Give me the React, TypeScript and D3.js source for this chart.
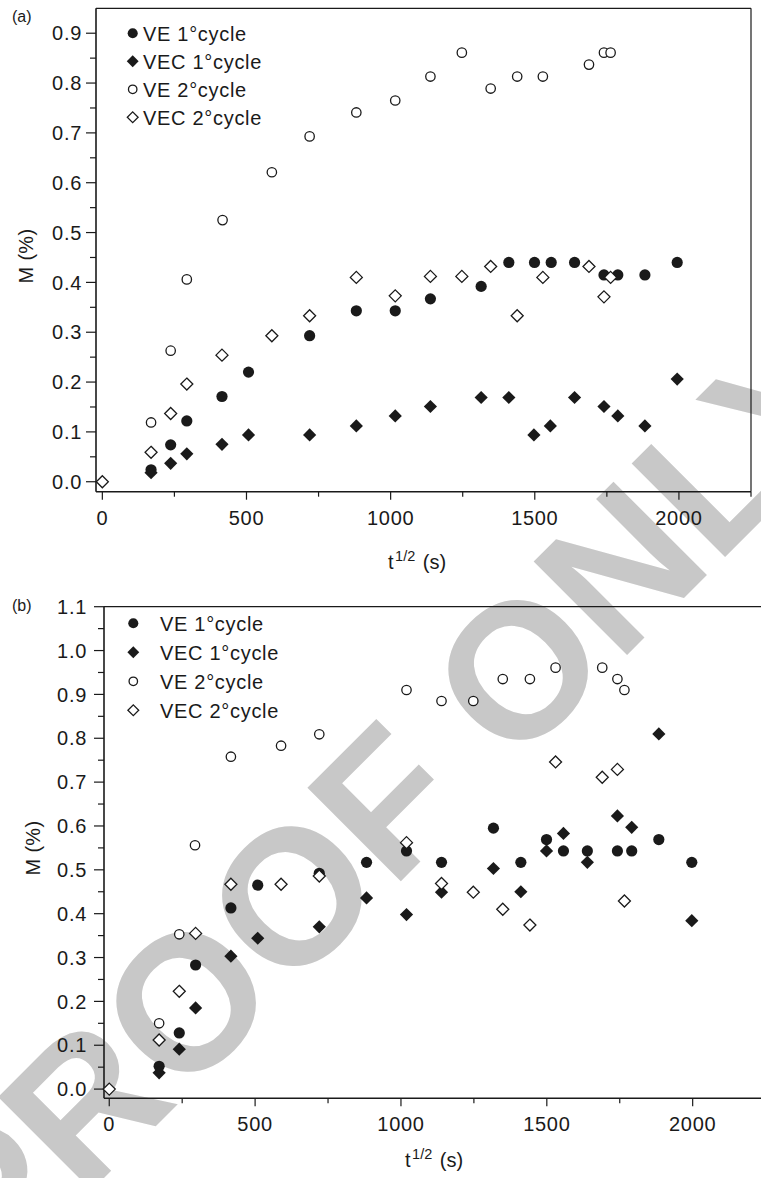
import React from 'react';
import * as d3 from 'd3';

// ---------- Data ----------
const seriesNames = ['VE 1°cycle', 'VEC 1°cycle', 'VE 2°cycle', 'VEC 2°cycle'];

// Panel (a)
const aVE1x = [169, 237, 293, 415, 507, 719, 881, 1016, 1138, 1314, 1410, 1499, 1557, 1638, 1740, 1788, 1882, 1994];
const aVE1y = [0.024, 0.074, 0.122, 0.171, 0.22, 0.293, 0.343, 0.343, 0.367, 0.392, 0.44, 0.44, 0.44, 0.44, 0.415, 0.415, 0.415, 0.44];
const aVEC1x = [169, 237, 293, 415, 507, 719, 881, 1016, 1138, 1314, 1410, 1497, 1554, 1638, 1740, 1788, 1882, 1994];
const aVEC1y = [0.018, 0.037, 0.056, 0.075, 0.094, 0.094, 0.112, 0.132, 0.151, 0.169, 0.169, 0.094, 0.112, 0.169, 0.151, 0.132, 0.112, 0.206];
const aVE2x = [169, 237, 293, 417, 588, 719, 881, 1016, 1138, 1247, 1347, 1439, 1528, 1688, 1740, 1763];
const aVE2y = [0.119, 0.263, 0.406, 0.525, 0.621, 0.693, 0.741, 0.765, 0.813, 0.861, 0.789, 0.813, 0.813, 0.837, 0.861, 0.861];
const aVEC2x = [0, 169, 237, 293, 415, 588, 719, 881, 1016, 1138, 1247, 1347, 1439, 1528, 1688, 1740, 1763];
const aVEC2y = [0, 0.059, 0.137, 0.196, 0.254, 0.293, 0.333, 0.41, 0.373, 0.412, 0.412, 0.432, 0.333, 0.41, 0.432, 0.371, 0.41];

// Panel (b)
const bVE1x = [171, 240, 296, 417, 509, 720, 882, 1019, 1139, 1317, 1411, 1499, 1557, 1639, 1742, 1791, 1884, 1997];
const bVE1y = [0.052, 0.128, 0.283, 0.413, 0.465, 0.492, 0.517, 0.543, 0.517, 0.595, 0.517, 0.569, 0.543, 0.543, 0.543, 0.543, 0.569, 0.517];
const bVEC1x = [171, 240, 296, 417, 509, 720, 882, 1019, 1139, 1317, 1411, 1499, 1557, 1639, 1742, 1791, 1884, 1997];
const bVEC1y = [0.037, 0.091, 0.185, 0.303, 0.344, 0.37, 0.436, 0.398, 0.449, 0.503, 0.45, 0.543, 0.583, 0.517, 0.623, 0.597, 0.81, 0.384];
const bVE2x = [171, 240, 294, 417, 589, 720, 1019, 1139, 1248, 1349, 1442, 1530, 1690, 1742, 1766];
const bVE2y = [0.15, 0.353, 0.556, 0.758, 0.783, 0.809, 0.91, 0.885, 0.885, 0.935, 0.935, 0.961, 0.961, 0.935, 0.91];
const bVEC2x = [0, 171, 240, 296, 417, 589, 720, 1019, 1139, 1248, 1349, 1442, 1530, 1690, 1742, 1766];
const bVEC2y = [0, 0.112, 0.223, 0.355, 0.467, 0.467, 0.486, 0.562, 0.469, 0.449, 0.41, 0.374, 0.746, 0.711, 0.729, 0.429];

const xMajorTicks = [0, 500, 1000, 1500, 2000];
const xMinorTicks = [250, 750, 1250, 1750, 2250];
const aYTicks = [0, 0.1, 0.2, 0.3, 0.4, 0.5, 0.6, 0.7, 0.8, 0.9];
const bYTicks = [0, 0.1, 0.2, 0.3, 0.4, 0.5, 0.6, 0.7, 0.8, 0.9, 1.0, 1.1];

const FONT = 'Liberation Sans, Arial, Helvetica, sans-serif';
const INK = '#1a1a1a';
const LS = 0.7;

type Shape = 'fc' | 'fd' | 'oc' | 'od';
const shapes: Shape[] = ['fc', 'fd', 'oc', 'od'];

function Marker({ cx, cy, shape, k }: { cx: number; cy: number; shape: Shape; k?: number }) {
  const s = k ?? 1;
  if (shape === 'fc') return <circle cx={cx} cy={cy} r={5.6 * s} fill={INK} />;
  if (shape === 'oc') return <circle cx={cx} cy={cy} r={4.7 * s} fill="#fff" stroke={INK} strokeWidth={1.3} />;
  const h = (shape === 'fd' ? 6.6 : 6.0) * s;
  const d = `M${cx},${cy - h}L${cx + h},${cy}L${cx},${cy + h}L${cx - h},${cy}Z`;
  if (shape === 'fd') return <path d={d} fill={INK} />;
  return <path d={d} fill="#fff" stroke={INK} strokeWidth={1.3} />;
}

interface PanelProps {
  label: string;
  xDomain: [number, number];
  xRange: [number, number];
  yDomain: [number, number];
  yRange: [number, number];
  yTicks: number[];
  series: { x: number[]; y: number[] }[];
  rightBorder: boolean;
  legendX: number;
  legendTextX: number;
  legendY0: number;
  legendDy: number;
  labelPos: [number, number];
  xTitlePos: [number, number];
  yTitlePos: [number, number];
  yLabelRight: number;
}

function Panel(p: PanelProps) {
  const x = d3.scaleLinear().domain(p.xDomain).range(p.xRange);
  const y = d3.scaleLinear().domain(p.yDomain).range(p.yRange);
  const [x0, x1] = p.xRange;
  const [yb, yt] = p.yRange;
  const yMinor = d3.range(0.05, p.yDomain[1], 0.1).filter((v) => v > p.yDomain[0] && v < p.yDomain[1]);
  const fmt = d3.format('.1f');
  return (
    <g>
      {/* frame */}
      <line x1={x0} y1={yt} x2={x0} y2={yb} stroke={INK} strokeWidth={1.6} />
      <line x1={x0} y1={yb} x2={x1} y2={yb} stroke={INK} strokeWidth={1.6} />
      <line x1={x0} y1={yt} x2={x1} y2={yt} stroke={INK} strokeWidth={1.2} />
      {p.rightBorder && <line x1={x1} y1={yt} x2={x1} y2={yb} stroke={INK} strokeWidth={1.2} />}
      {/* x ticks */}
      {xMajorTicks.map((t) => (
        <g key={'xm' + t}>
          <line x1={x(t)} x2={x(t)} y1={yb} y2={yb + 8} stroke={INK} strokeWidth={1.2} />
          <text x={x(t)} y={yb + 33} textAnchor="middle" fontSize={20} letterSpacing={LS} fontFamily={FONT} fill={INK}>
            {t}
          </text>
        </g>
      ))}
      {xMinorTicks.map((t) => (
        <line key={'xn' + t} x1={x(t)} x2={x(t)} y1={yb} y2={yb + 5} stroke={INK} strokeWidth={1.2} />
      ))}
      {/* y ticks */}
      {p.yTicks.map((t) => (
        <g key={'ym' + t}>
          <line x1={x0 - 10} x2={x0} y1={y(t)} y2={y(t)} stroke={INK} strokeWidth={1.2} />
          <text x={p.yLabelRight} y={y(t)} dy="0.36em" textAnchor="end" fontSize={20} letterSpacing={LS} fontFamily={FONT} fill={INK}>
            {fmt(t)}
          </text>
        </g>
      ))}
      {yMinor.map((t) => (
        <line key={'yn' + t} x1={x0 - 6} x2={x0} y1={y(t)} y2={y(t)} stroke={INK} strokeWidth={1.2} />
      ))}
      {/* titles */}
      <text x={p.labelPos[0]} y={p.labelPos[1]} fontSize={16} fontFamily={FONT} fill={INK}>
        {p.label}
      </text>
      <text x={p.xTitlePos[0]} y={p.xTitlePos[1]} fontSize={20} fontFamily={FONT} fill={INK}>
        t<tspan fontSize={14.5} dx={1.5} dy={-8.5}>1/2</tspan>
        <tspan dx={2} dy={8.5}> (s)</tspan>
      </text>
      <text
        transform={`translate(${p.yTitlePos[0]},${p.yTitlePos[1]}) rotate(-90)`}
        textAnchor="middle"
        fontSize={20}
        letterSpacing={0.3}
        fontFamily={FONT}
        fill={INK}
      >
        M (%)
      </text>
      {/* data */}
      {p.series.map((s, i) => (
        <g key={'s' + i}>
          {s.x.map((xv, j) => (
            <Marker key={j} cx={x(xv)} cy={y(s.y[j])} shape={shapes[i]} />
          ))}
        </g>
      ))}
      {/* legend */}
      {seriesNames.map((n, i) => {
        const ly = p.legendY0 + i * p.legendDy;
        return (
          <g key={'lg' + i}>
            <Marker cx={p.legendX} cy={ly} shape={shapes[i]} k={0.9} />
            <text x={p.legendTextX} y={ly} dy="0.36em" fontSize={20} letterSpacing={LS} fontFamily={FONT} fill={INK}>
              {n}
            </text>
          </g>
        );
      })}
    </g>
  );
}

export default function App() {
  return (
    <svg
      width={761}
      height={1178}
      style={{ position: 'absolute', left: 0, top: 0, background: '#fff' }}
      xmlns="http://www.w3.org/2000/svg"
    >
      <rect x={0} y={0} width={761} height={1178} fill="#fff" />
      {/* watermark */}
      <text
        transform="translate(-8,1290) rotate(-45)"
        fontSize={192}
        fontWeight="bold"
        fontFamily={FONT}
        fill="#c8c8c8"
      >
        PROOF ONLY
      </text>
      <Panel
        label="(a)"
        xDomain={[-22, 2250]}
        xRange={[96, 751]}
        yDomain={[-0.02, 0.95]}
        yRange={[491.7, 8.3]}
        yTicks={aYTicks}
        series={[
          { x: aVE1x, y: aVE1y },
          { x: aVEC1x, y: aVEC1y },
          { x: aVE2x, y: aVE2y },
          { x: aVEC2x, y: aVEC2y },
        ]}
        rightBorder={true}
        legendX={132.7}
        legendTextX={143}
        legendY0={33.3}
        legendDy={28}
        labelPos={[12, 22]}
        xTitlePos={[388, 569]}
        yTitlePos={[33, 256]}
        yLabelRight={82}
      />
      <Panel
        label="(b)"
        xDomain={[-18, 2250]}
        xRange={[104, 765.6]}
        yDomain={[-0.021, 1.1]}
        yRange={[1098.3, 606.7]}
        yTicks={bYTicks}
        series={[
          { x: bVE1x, y: bVE1y },
          { x: bVEC1x, y: bVEC1y },
          { x: bVE2x, y: bVE2y },
          { x: bVEC2x, y: bVEC2y },
        ]}
        rightBorder={false}
        legendX={133.3}
        legendTextX={160}
        legendY0={623.3}
        legendDy={29}
        labelPos={[12, 611]}
        xTitlePos={[405, 1167]}
        yTitlePos={[40, 848]}
        yLabelRight={87}
      />
    </svg>
  );
}
